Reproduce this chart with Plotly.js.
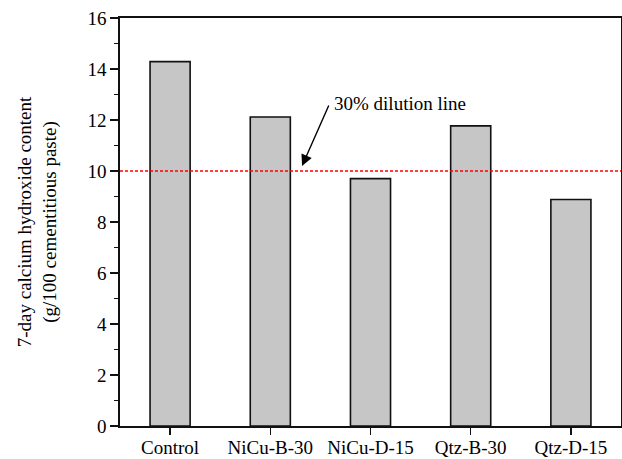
<!DOCTYPE html>
<html>
<head>
<meta charset="utf-8">
<script src="https://cdn.plot.ly/plotly-3.0.1.min.js"></script>
<style>html,body{margin:0;padding:0;background:#fff;}</style>
</head>
<body>
<div id="chart" style="width:622px;height:459px;"></div>
<script>
const categories = ["Control", "NiCu-B-30", "NiCu-D-15", "Qtz-B-30", "Qtz-D-15"];
const values = [14.29, 12.12, 9.7, 11.77, 8.88];
const dilutionLevel = 10;
const yTickVals = [0, 2, 4, 6, 8, 10, 12, 14, 16];

const font = {family: "Liberation Serif, Times New Roman, serif", color: "#000", size: 19};

const traces = [
  {
    type: "bar",
    x: categories,
    y: values,
    width: 0.4,
    marker: {color: "#c6c6c6", line: {color: "#111", width: 1.6}},
    hoverinfo: "x+y"
  }
];

const layout = {
  width: 622, height: 459,
  margin: {l: 120, r: 1, t: 18, b: 33},
  paper_bgcolor: "#fff", plot_bgcolor: "#fff",
  font: font,
  showlegend: false,
  xaxis: {
    type: "category",
    range: [-0.5, 4.5],
    showline: true, linecolor: "#111", linewidth: 1.6, mirror: true,
    ticks: "outside", ticklen: 7, tickwidth: 1.4, tickcolor: "#111",
    ticklabelstandoff: -3,
    showgrid: false, zeroline: false, automargin: false,
    tickfont: font
  },
  yaxis: {
    range: [0, 16],
    tickvals: yTickVals,
    showline: true, linecolor: "#111", linewidth: 1.6, mirror: true,
    ticks: "outside", ticklen: 8, tickwidth: 1.4, tickcolor: "#111",
    minor: {dtick: 1, ticks: "outside", ticklen: 4.5, tickwidth: 1.2, tickcolor: "#111"},
    showgrid: false, zeroline: false, automargin: false,
    tickfont: font,
    title: {text: "7-day calcium hydroxide content<br>(g/100 cementitious paste)", font: font, standoff: 26}
  },
  shapes: [
    {
      type: "line", xref: "paper", x0: 0, x1: 1, yref: "y", y0: dilutionLevel, y1: dilutionLevel,
      line: {color: "#ff0000", width: 1.6, dash: "3px,2px"}
    }
  ],
  annotations: [
    {
      xref: "x", yref: "y", axref: "x", ayref: "y",
      x: 1.317, y: 10.2, ax: 1.59, ay: 12.63,
      text: "", showarrow: true, arrowhead: 2, arrowsize: 1.6, arrowwidth: 1.4, arrowcolor: "#000"
    },
    {
      xref: "x", yref: "y",
      x: 1.62, y: 12.63, xanchor: "left", yanchor: "middle",
      text: "30% dilution line", showarrow: false, font: font
    }
  ]
};

Plotly.newPlot("chart", traces, layout, {displayModeBar: false, staticPlot: true});
</script>
</body>
</html>
